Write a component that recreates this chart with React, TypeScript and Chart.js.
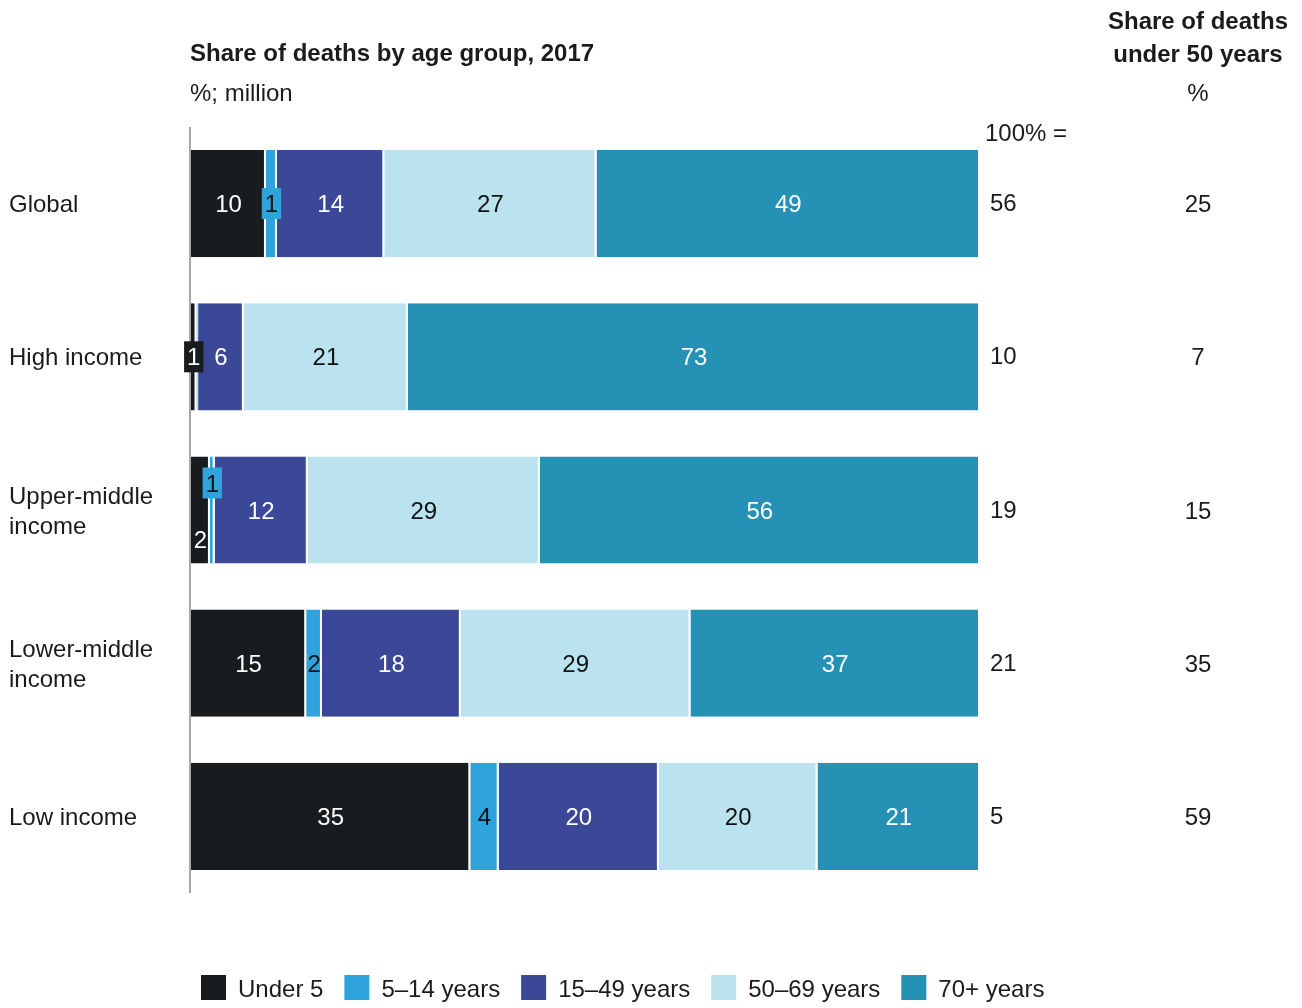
import { useEffect, useRef } from 'react';
import { Chart, registerables } from 'chart.js';

Chart.register(...registerables);

// ---- data ----
const categories: string[][] = [
  ['Global'],
  ['High income'],
  ['Upper-middle', 'income'],
  ['Lower-middle', 'income'],
  ['Low income'],
];
const seriesNames = ['Under 5', '5–14 years', '15–49 years', '50–69 years', '70+ years'];
const under5 = [9.5, 0.7, 2.4, 14.6, 35.4];
const age5to14 = [1.4, 0.2, 0.6, 2.0, 3.6];
const age15to49 = [13.6, 5.8, 11.8, 17.6, 20.3];
const age50to69 = [26.9, 20.8, 29.4, 29.1, 20.1];
const age70plus = [48.6, 72.5, 55.8, 36.7, 20.6];
const totalDeathsMillion = [56, 10, 19, 21, 5];
const shareUnder50 = [25, 7, 15, 35, 59];

// ---- styles ----
const COLORS = ['#181c1f', '#2fa4dc', '#3b4897', '#bae3ef', '#2491b5'];
const LABEL_COLORS = ['#ffffff', '#111111', '#ffffff', '#111111', '#ffffff'];
const FONT = '"Liberation Sans", Arial, sans-serif';
const TEXT = '#1b1b1b';
const FS = 24;

const overlayPlugin = {
  id: 'overlay',
  afterDatasetsDraw(chart: any) {
    const ctx = chart.ctx as CanvasRenderingContext2D;
    const area = chart.chartArea;
    ctx.save();

    // axis line
    ctx.strokeStyle = '#a8a8a8';
    ctx.lineWidth = 2;
    ctx.beginPath();
    ctx.moveTo(area.left - 1, area.top);
    ctx.lineTo(area.left - 1, area.bottom);
    ctx.stroke();

    ctx.font = `${FS}px ${FONT}`;
    ctx.textBaseline = 'middle';

    const datasets = chart.data.datasets;
    categories.forEach((cat, j) => {
      const items: any[] = [];
      datasets.forEach((ds: any, i: number) => {
        const bar = chart.getDatasetMeta(i).data[j];
        const p = bar.getProps(['x', 'base', 'y'], true);
        const left = Math.min(p.x, p.base);
        const right = Math.max(p.x, p.base);
        const val = Math.round(ds.data[j]);
        if (val === 0) return;
        const text = String(val);
        const tw = ctx.measureText(text).width;
        items.push({
          i,
          text,
          tw,
          cx: (left + right) / 2,
          y: p.y,
          boxed: right - left < tw + 2,
          dy: 0,
        });
      });
      // stagger boxed labels that collide with neighbours
      items.forEach((it, k) => {
        if (!it.boxed) return;
        const l = it.cx - it.tw / 2 - 4;
        const r = it.cx + it.tw / 2 + 4;
        [k - 1, k + 1].forEach((n) => {
          const nb = items[n];
          if (!nb) return;
          const nl = nb.cx - nb.tw / 2;
          const nr = nb.cx + nb.tw / 2;
          if (nr > l && nl < r) {
            it.dy = -27;
            nb.dy = 29;
          }
        });
      });
      items.forEach((it) => {
        const y = it.y + it.dy;
        if (it.boxed) {
          ctx.fillStyle = COLORS[it.i];
          ctx.fillRect(it.cx - it.tw / 2 - 3, y - 15.5, it.tw + 6, 31);
        }
        ctx.fillStyle = LABEL_COLORS[it.i];
        ctx.textAlign = 'center';
        ctx.fillText(it.text, it.cx, y + 2);
      });

      // category label
      const y0 = chart.getDatasetMeta(0).data[j].y;
      ctx.fillStyle = TEXT;
      ctx.textAlign = 'left';
      const n = cat.length;
      cat.forEach((line, li) => {
        ctx.fillText(line, 9, y0 + 2 + (li - (n - 1) / 2) * 30);
      });

      // right-hand columns
      ctx.fillText(String(totalDeathsMillion[j]), area.right + 10, y0 + 1);
      ctx.textAlign = 'center';
      ctx.fillText(String(shareUnder50[j]), 1198, y0 + 2);
    });

    // headers
    ctx.fillStyle = TEXT;
    ctx.textAlign = 'left';
    ctx.font = `bold ${FS}px ${FONT}`;
    ctx.fillText('Share of deaths by age group, 2017', area.left - 1, 54);
    ctx.font = `${FS}px ${FONT}`;
    ctx.fillText('%; million', area.left - 1, 94);
    ctx.fillText('100% =', area.right + 5, 134);
    ctx.textAlign = 'center';
    ctx.font = `bold ${FS}px ${FONT}`;
    ctx.fillText('Share of deaths', 1198, 22);
    ctx.fillText('under 50 years', 1198, 55);
    ctx.font = `${FS}px ${FONT}`;
    ctx.fillText('%', 1198, 94);

    // legend
    let x = 201;
    const ly = 988;
    ctx.textAlign = 'left';
    seriesNames.forEach((name, i) => {
      ctx.fillStyle = COLORS[i];
      ctx.fillRect(x, ly - 13, 25, 25);
      x += 25 + 12;
      ctx.fillStyle = TEXT;
      ctx.fillText(name, x, ly + 2);
      x += ctx.measureText(name).width + 21;
    });

    ctx.restore();
  },
};

export default function App() {
  const ref = useRef<HTMLCanvasElement | null>(null);

  useEffect(() => {
    if (!ref.current) return;
    const seriesData = [under5, age5to14, age15to49, age50to69, age70plus];
    const chart = new Chart(ref.current, {
      type: 'bar',
      data: {
        labels: categories.map((c) => c.join(' ')),
        datasets: seriesData.map((d, i) => ({
          label: seriesNames[i],
          data: d,
          backgroundColor: COLORS[i],
          borderColor: '#ffffff',
          borderWidth: { top: 0, bottom: 0, left: 0, right: 2 },
          borderSkipped: false,
          barPercentage: 0.7,
          categoryPercentage: 1,
        })),
      },
      options: {
        indexAxis: 'y',
        responsive: false,
        animation: false,
        devicePixelRatio: 1,
        layout: { padding: { left: 191, right: 322, top: 127, bottom: 115 } },
        scales: {
          x: { stacked: true, min: 0, max: 100, display: false },
          y: { stacked: true, display: false },
        },
        plugins: {
          legend: { display: false },
          tooltip: { enabled: false },
          title: { display: false },
        },
      },
      plugins: [overlayPlugin],
    });
    return () => chart.destroy();
  }, []);

  return (
    <div style={{ position: 'fixed', left: 0, top: 0, width: 1302, height: 1008, background: '#fff' }}>
      <canvas ref={ref} width={1302} height={1008} style={{ width: 1302, height: 1008 }} />
    </div>
  );
}
